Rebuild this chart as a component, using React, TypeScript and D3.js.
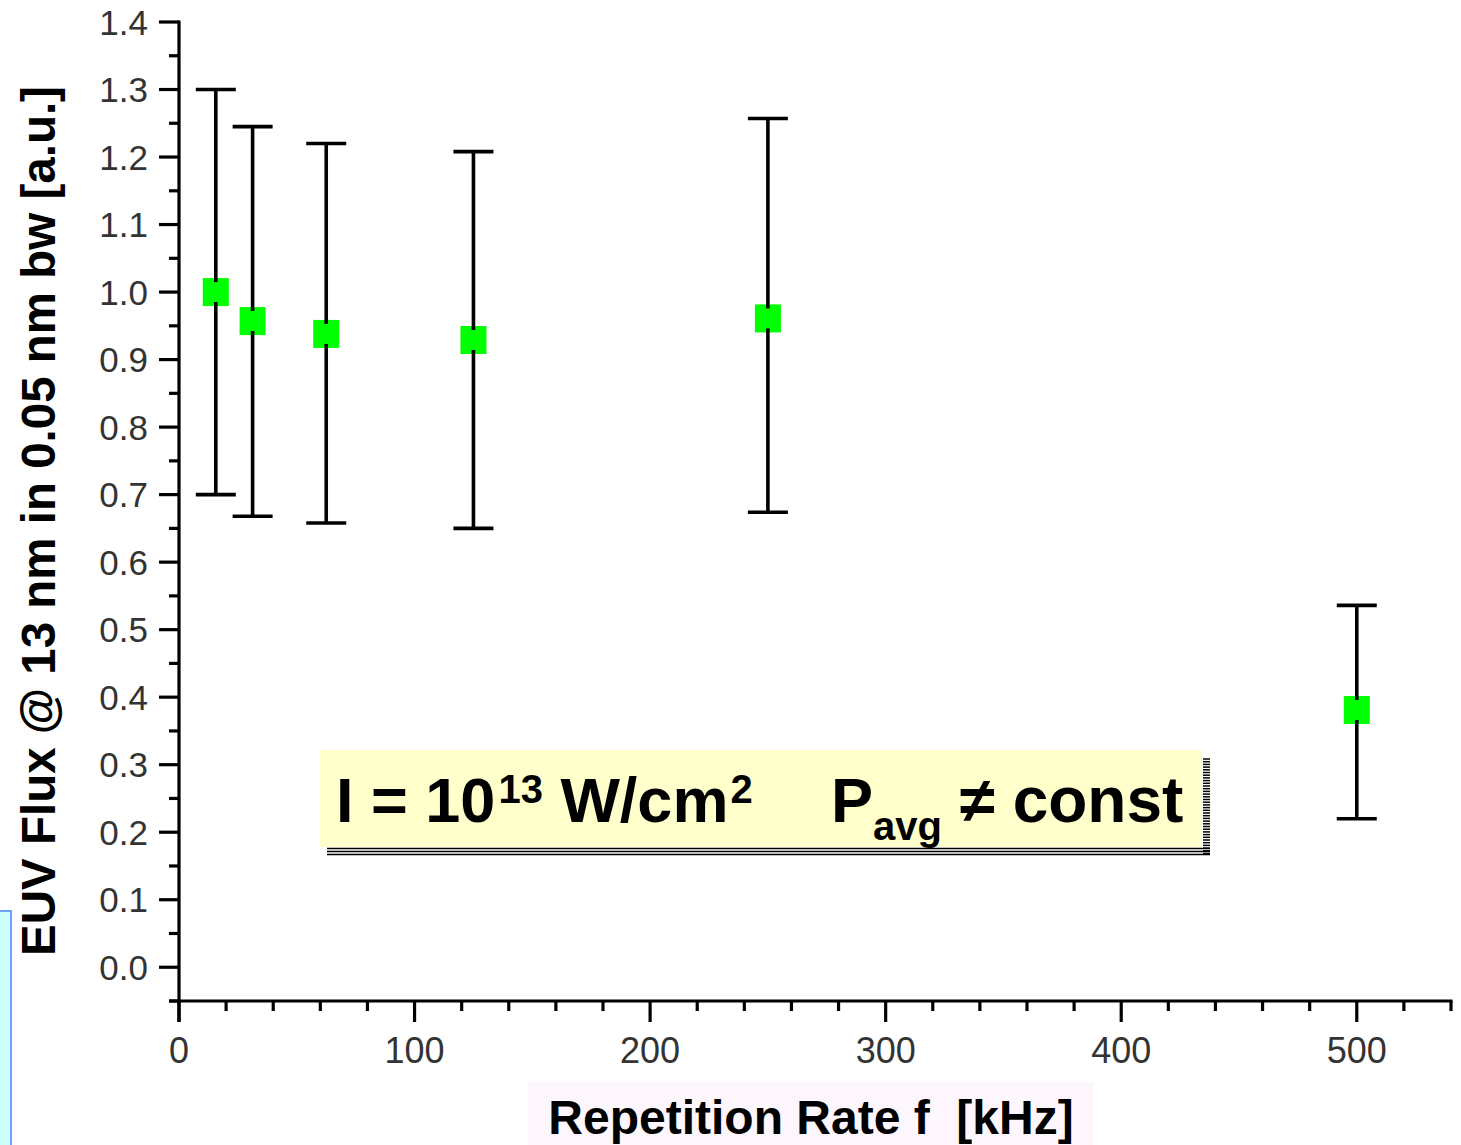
import React from "react";
import * as d3 from "d3";

const repRates = [15.625, 31.25, 62.5, 125, 250, 500];
const fluxValues = [1.0, 0.957, 0.938, 0.929, 0.961, 0.381];
const errUpper = [1.3, 1.245, 1.22, 1.208, 1.257, 0.536];
const errLower = [0.7, 0.668, 0.658, 0.65, 0.674, 0.22];
const yTickValues = [0, 0.1, 0.2, 0.3, 0.4, 0.5, 0.6, 0.7, 0.8, 0.9, 1.0, 1.1, 1.2, 1.3, 1.4];
const yTickLabels = ["0.0", "0.1", "0.2", "0.3", "0.4", "0.5", "0.6", "0.7", "0.8", "0.9", "1.0", "1.1", "1.2", "1.3", "1.4"];
const xTickValues = [0, 100, 200, 300, 400, 500];
const xTickLabels = ["0", "100", "200", "300", "400", "500"];
const xTitle = "Repetition Rate f  [kHz]";
const yTitle = "EUV Flux @ 13 nm in 0.05 nm bw [a.u.]";

const W = 1461;
const H = 1145;

export default function App() {
  const x = d3.scaleLinear().domain([0, 540]).range([179, 1451]);
  const y = d3.scaleLinear().domain([-0.05, 1.4]).range([1001, 22]);

  const yMinor = d3.range(-0.05, 1.4, 0.1).map((v) => Math.round(v * 100) / 100);
  const xMinor = d3.range(20, 541, 20).filter((v) => v % 100 !== 0);

  const pts = repRates.map((r, i) => ({
    x: r,
    v: fluxValues[i],
    hi: errUpper[i],
    lo: errLower[i],
  }));

  const tickFont = "Arial, 'Liberation Sans', sans-serif";
  const axisW = 3.2;
  const mW = 26;
  const mH = 28;

  return (
    <svg
      width={W}
      height={H}
      style={{ position: "absolute", left: 0, top: 0, background: "#fff" }}
    >
      {/* left decorative box */}
      <rect x={-3} y={911} width={14} height={240} fill="#ccffff" stroke="#6f9fff" strokeWidth={2} />

      {/* x title background */}
      <rect x={528} y={1082} width={565} height={70} fill="#fdf6fd" />

      {/* annotation box */}
      <g>
        <rect x={320} y={750} width={882} height={97} fill="#ffffcc" />
        {[848.5, 851.5, 854.5].map((ly) => (
          <line key={ly} x1={327} x2={1210} y1={ly} y2={ly} stroke="#000" strokeWidth={1.6} />
        ))}
        {d3.range(759, 856, 2.7).map((ly) => (
          <line key={"s" + ly} x1={1203} x2={1210} y1={ly} y2={ly} stroke="#000" strokeWidth={1.5} />
        ))}
        <text
          x={336}
          y={822}
          fontFamily="Arial, 'Liberation Sans', sans-serif"
          fontWeight="bold"
          fontSize={63}
          fill="#000"
        >
          I = 10
          <tspan fontSize={40} dy={-19} dx={3}>13</tspan>
          <tspan dy={19}> W/cm</tspan>
          <tspan fontSize={40} dy={-19} dx={2}>2</tspan>
        </text>
        <text
          x={831}
          y={822}
          fontFamily="Arial, 'Liberation Sans', sans-serif"
          fontWeight="bold"
          fontSize={63}
          fill="#000"
        >
          P
          <tspan fontSize={40} dy={18}>avg</tspan>
          <tspan dy={-18} fontSize={64}> ≠ const</tspan>
        </text>
      </g>

      {/* y axis */}
      <line x1={x(0)} x2={x(0)} y1={y(1.4) - 1.5} y2={y(-0.05) + 21} stroke="#000" strokeWidth={axisW} />
      {yTickValues.map((v, i) => (
        <g key={"yt" + i}>
          <line x1={x(0) - 20} x2={x(0)} y1={y(v)} y2={y(v)} stroke="#000" strokeWidth={axisW} />
          <text
            x={148}
            y={y(v)}
            dy="0.36em"
            textAnchor="end"
            fontFamily={tickFont}
            fontSize={35}
            fill="#333"
          >
            {yTickLabels[i]}
          </text>
        </g>
      ))}
      {yMinor.map((v) => (
        <line key={"ym" + v} x1={x(0) - 10} x2={x(0)} y1={y(v)} y2={y(v)} stroke="#000" strokeWidth={axisW} />
      ))}

      {/* x axis */}
      <line x1={x(0) - 10} x2={x(540) + 1.5} y1={y(-0.05)} y2={y(-0.05)} stroke="#000" strokeWidth={axisW} />
      {xTickValues.map((v, i) => (
        <g key={"xt" + i}>
          <line x1={x(v)} x2={x(v)} y1={y(-0.05)} y2={y(-0.05) + 21} stroke="#000" strokeWidth={axisW} />
          <text
            x={x(v)}
            y={1050}
            dy="0.36em"
            textAnchor="middle"
            fontFamily={tickFont}
            fontSize={36}
            fill="#333"
          >
            {xTickLabels[i]}
          </text>
        </g>
      ))}
      {xMinor.map((v) => (
        <line key={"xm" + v} x1={x(v)} x2={x(v)} y1={y(-0.05)} y2={y(-0.05) + 10} stroke="#000" strokeWidth={axisW} />
      ))}

      {/* data */}
      {pts.map((p, i) => {
        const cx = x(p.x);
        const cy = y(p.v);
        return (
          <g key={"p" + i}>
            <rect x={cx - mW / 2} y={cy - mH / 2} width={mW} height={mH} fill="#00ff00" />
            <line x1={cx} x2={cx} y1={y(p.hi)} y2={cy - mH / 2 + 4} stroke="#000" strokeWidth={3.6} />
            <line x1={cx} x2={cx} y1={cy + mH / 2 - 4} y2={y(p.lo)} stroke="#000" strokeWidth={3.6} />
            <line x1={cx - 20} x2={cx + 20} y1={y(p.hi)} y2={y(p.hi)} stroke="#000" strokeWidth={3.6} />
            <line x1={cx - 20} x2={cx + 20} y1={y(p.lo)} y2={y(p.lo)} stroke="#000" strokeWidth={3.6} />
          </g>
        );
      })}

      {/* titles */}
      <text
        x={811}
        y={1134}
        textAnchor="middle"
        fontFamily="Arial, 'Liberation Sans', sans-serif"
        fontWeight="bold"
        fontSize={48}
        fill="#000"
        style={{ whiteSpace: "pre" }}
      >
        {xTitle}
      </text>
      <text
        transform="translate(55,521) rotate(-90)"
        textAnchor="middle"
        fontFamily="Arial, 'Liberation Sans', sans-serif"
        fontWeight="bold"
        fontSize={47.5}
        fill="#000"
      >
        {yTitle}
      </text>
    </svg>
  );
}
